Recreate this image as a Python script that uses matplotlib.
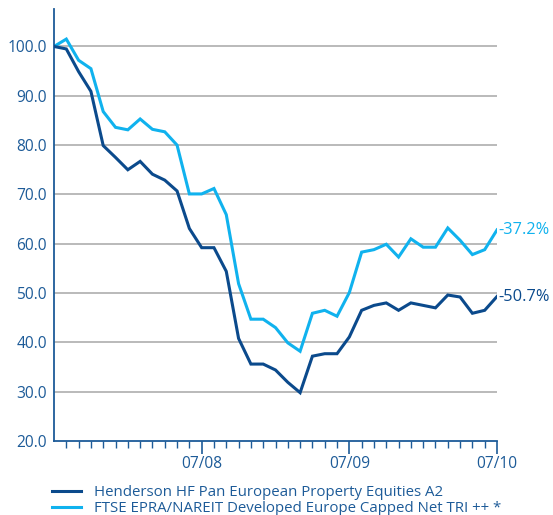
import numpy as np
import matplotlib.pyplot as plt
from matplotlib.ticker import FixedLocator

# Monthly indexed performance, 07/07 = 100
henderson = [100.0, 99.5, 94.9, 90.9, 79.9, 77.5, 75.0, 76.7, 74.1, 72.9,
             70.7, 63.1, 59.2, 59.2, 54.4, 40.8, 35.6, 35.6, 34.4, 31.9,
             29.8, 37.2, 37.7, 37.7, 41.1, 46.5, 47.5, 48.0, 46.5, 48.0,
             47.5, 47.0, 49.6, 49.2, 45.9, 46.5, 49.3]
ftse = [100.0, 101.5, 97.2, 95.5, 86.8, 83.6, 83.1, 85.3, 83.2, 82.7,
        80.0, 70.1, 70.1, 71.2, 65.9, 51.9, 44.7, 44.7, 43.0, 39.9,
        38.2, 45.9, 46.5, 45.3, 50.1, 58.3, 58.8, 59.9, 57.3, 61.0,
        59.3, 59.3, 63.2, 60.7, 57.8, 58.8, 62.8]
x_labels = ["07/08", "07/09", "07/10"]
series_names = ["Henderson HF Pan European Property Equities A2",
                "FTSE EPRA/NAREIT Developed Europe Capped Net TRI ++ *"]
end_labels = ["-50.7%", "-37.2%"]

dark = "#0b4a8c"
light = "#10b2ee"
text_col = "#1d5b98"
grid_col = "#b4b4b4"

plt.rcParams['font.family'] = ['Open Sans', 'DejaVu Sans']

fig = plt.figure(figsize=(5.53, 5.15), dpi=100)
ax = fig.add_axes([54/553, 1 - 441/515, (497 - 54)/553, (441 - 9)/515])

months = np.arange(len(henderson))
for val in range(30, 101, 10):
    ax.axhline(val, color=grid_col, lw=1.3, zorder=1)

l1, = ax.plot(months, henderson, color=dark, lw=2.2, zorder=3, solid_joinstyle='miter')
l2, = ax.plot(months, ftse, color=light, lw=2.2, zorder=2, solid_joinstyle='miter')

ax.text(months[-1] + 0.15, henderson[-1], end_labels[0], color=dark,
        fontsize=11.8, va='center', ha='left')
ax.text(months[-1] + 0.15, ftse[-1], end_labels[1], color=light,
        fontsize=11.8, va='center', ha='left')

ax.set_xlim(0, 36)
ax.set_ylim(20, 107.6)
ax.set_yticks(np.arange(20, 101, 10))
ax.set_yticklabels([f"{v:.1f}" for v in range(20, 101, 10)])
ax.tick_params(axis='y', length=0, pad=5, labelcolor=text_col, labelsize=11.2)

ax.xaxis.set_major_locator(FixedLocator([12, 24, 36]))
ax.set_xticklabels(x_labels)
ax.xaxis.set_minor_locator(FixedLocator([m for m in range(1, 36) if m % 12]))
ax.tick_params(axis='x', which='major', direction='out', length=9, width=1.2,
               color=text_col, labelcolor=text_col, labelsize=11.2, pad=2)
ax.tick_params(axis='x', which='minor', direction='out', length=5, width=1.0,
               color=text_col)

for side in ['top', 'right']:
    ax.spines[side].set_visible(False)
for side in ['left', 'bottom']:
    ax.spines[side].set_color(text_col)
    ax.spines[side].set_linewidth(1.3)

fig.legend([l1, l2], series_names, loc='upper left',
           bbox_to_anchor=(52/553, 1 - 485/515), frameon=False,
           handlelength=1.95, handletextpad=0.85, labelspacing=0.05,
           fontsize=10.8, labelcolor=text_col, borderpad=0, borderaxespad=0)

fig.savefig("out.png", dpi=100)
